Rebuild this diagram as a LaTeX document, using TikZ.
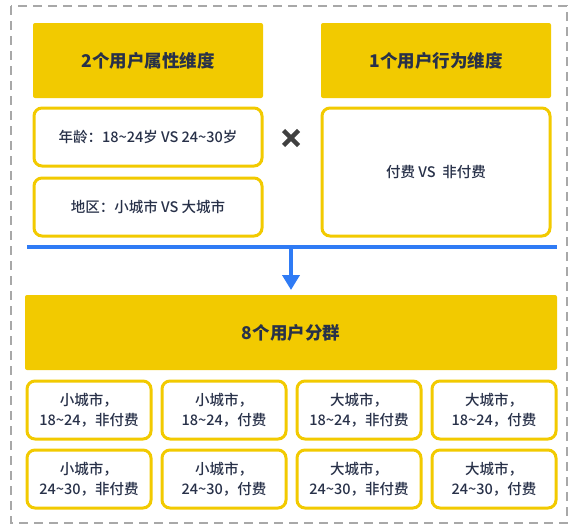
\documentclass[tikz,border=0pt]{standalone}
\usepackage{fontspec}
\setmainfont{Noto Sans CJK SC}
\newfontfamily\cjkm{Noto Sans CJK SC Medium}
\usetikzlibrary{arrows.meta}
\definecolor{yel}{HTML}{F2CA00}
\definecolor{txt}{HTML}{283149}
\definecolor{blu}{HTML}{2F7BF5}
\definecolor{brd}{HTML}{A8A8A8}
\definecolor{crs}{HTML}{404040}
\tikzset{
  headbox/.style={fill=yel, rounded corners=2pt, inner sep=0pt, outer sep=0pt, anchor=north west,
    text=txt, font=\bfseries\fontsize{17.5}{20}\selectfont},
  itembox/.style={draw=yel, fill=white, line width=3pt, rounded corners=8pt, inner sep=0pt, outer sep=0pt,
    anchor=north west, text=txt, align=center, font=\cjkm\fontsize{14.5}{20}\selectfont},
  segbox/.style={itembox, minimum width=124pt, minimum height=58pt}
}
\begin{document}
\begin{tikzpicture}[x=1pt,y=-1pt]
\useasboundingbox (0,0) rectangle (576,530);
\draw[brd, line width=2pt, dash pattern=on 9pt off 6pt] (11,6) rectangle (567,523);
% top headers
\node[headbox, minimum width=230pt, minimum height=75pt] (h1) at (33,23) {2个用户属性维度};
\node[headbox, minimum width=230pt, minimum height=75pt] (h2) at (321,23) {1个用户行为维度};
% items
\node[itembox, minimum width=228pt, minimum height=58pt] (age) at (34,108) {年龄：18\textasciitilde 24岁 VS 24\textasciitilde 30岁};
\node[itembox, minimum width=228pt, minimum height=58pt] (reg) at (34,178) {地区：小城市 VS 大城市};
\node[itembox, minimum width=228pt, minimum height=128pt] (pay) at (322,108) {付费 VS \ 非付费};
% cross
\node[inner sep=0pt] (x) at (291,138) {};
\draw[crs, line width=4.5pt] ([shift={(-7.5,-7.5)}]x.center) -- ([shift={(7.5,7.5)}]x.center);
\draw[crs, line width=4.5pt] ([shift={(-7.5,7.5)}]x.center) -- ([shift={(7.5,-7.5)}]x.center);
% blue line
\coordinate (bl) at (27,247);
\coordinate (br) at (557,247);
\coordinate (bm) at (291,247);
\draw[blu, line width=4pt] (bl) -- (br);
% result header
\node[headbox, minimum width=532pt, minimum height=75pt] (seg) at (25,295) {8个用户分群};
\draw[blu, line width=4pt, -{Triangle[width=17pt,length=15pt]}, shorten >=5pt] (bm) -- (bm |- seg.north);
% segments
\node[segbox] (s1) at (27,381) {小城市，\\18\textasciitilde 24，非付费};
\node[segbox] (s2) at (162,381) {小城市，\\18\textasciitilde 24，付费};
\node[segbox] (s3) at (297,381) {大城市，\\18\textasciitilde 24，非付费};
\node[segbox] (s4) at (432,381) {大城市，\\18\textasciitilde 24，付费};
\node[segbox] (s5) at (27,450) {小城市，\\24\textasciitilde 30，非付费};
\node[segbox] (s6) at (162,450) {小城市，\\24\textasciitilde 30，付费};
\node[segbox] (s7) at (297,450) {大城市，\\24\textasciitilde 30，非付费};
\node[segbox] (s8) at (432,450) {大城市，\\24\textasciitilde 30，付费};
\end{tikzpicture}
\end{document}
